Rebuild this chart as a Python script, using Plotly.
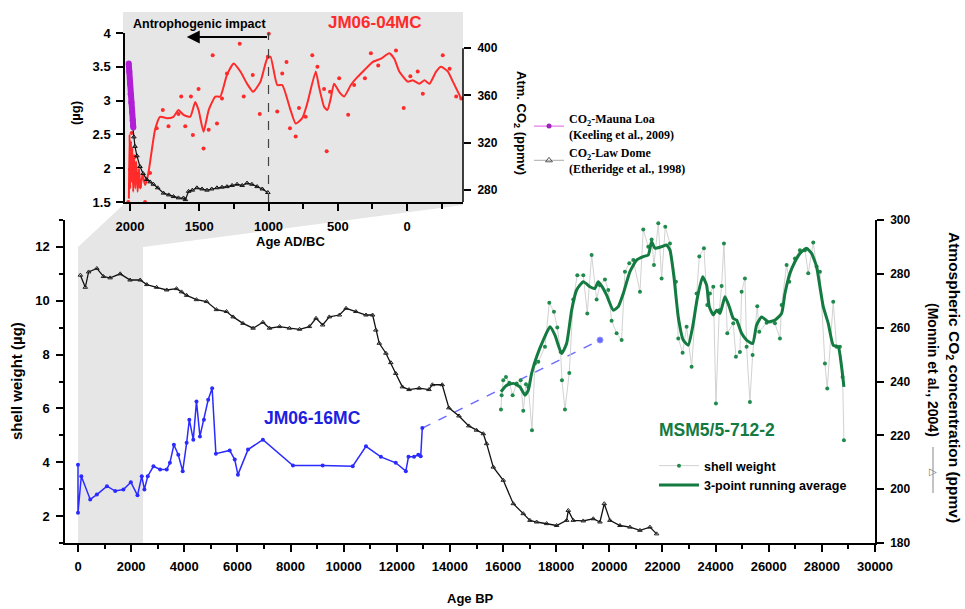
import plotly.graph_objects as go

W, H = 965, 609
def px(x): return x / W
def py(y): return 1 - y / H

FONT = "Liberation Sans"
SERIF = "Liberation Serif"

# ---------------- main plot data ----------------
# Monnin / Law Dome atmospheric CO2 (ppmv) vs Age BP
co2_bp = [90, 275, 400, 710, 960, 1210, 1590, 1960, 2340, 2590, 2960, 3340, 3710, 3900, 4090,
          4460, 4840, 5210, 5590, 5840, 6210, 6590, 6960, 7210, 7590, 7960, 8340, 8710, 8960,
          9210, 9460, 9840, 10090, 10460, 10840, 11090, 11210, 11340, 11590, 11775, 11960,
          12210, 12460, 12840, 13210, 13340, 13710, 13960, 14340, 14710, 15000, 15256, 15381,
          15632, 16008, 16385, 16760, 17012, 17263, 17640, 18016, 18393, 18455, 18644, 19020,
          19396, 19647, 19810, 20023, 20400, 20776, 21152, 21529, 21780]
co2_ppm = [279.5, 275, 280.7, 282, 279, 278.5, 280, 277.7, 277.7, 276, 275, 274, 274.5, 273.3, 272,
           270.4, 269.7, 266.7, 266, 264, 261.6, 259.8, 262, 259.8, 260.4, 259.8, 259.4, 260.4, 263.5,
           261, 264, 264.7, 267.2, 266, 264.7, 264.7, 259.1, 254.2, 250.5, 247, 243,
           238, 237, 237.5, 237, 238.8, 238.8, 230.2, 227.2, 223.5, 221.9, 220.6, 216.9,
           208.2, 203.3, 194.6, 190.9, 188.4, 187.8, 187.2, 186.5, 188.4, 192.1, 188.4, 188.2,
           189.0, 187.8, 194.6, 188.4, 186.5, 185.9, 184.7, 185.9, 183.4]

# JM06-16MC shell weight (ug)
jm16_bp = [0, 0, 125, 460, 710, 1090, 1400, 1710, 1990, 2240, 2400, 2500, 2625, 2840, 3090, 3340,
           3460, 3610, 3775, 3940, 4090, 4190, 4340, 4460, 4590, 4740, 4900, 5050, 5190, 5710,
           5900, 6020, 6400, 6960, 8090, 9210, 10340, 10840, 11400, 11960, 12340, 12440, 12650,
           12810, 12900, 12960]
jm16_sw = [3.91, 2.12, 3.48, 2.62, 2.8, 3.11, 2.93, 2.99, 3.26, 2.77, 3.48, 2.99, 3.48, 3.85, 3.73, 3.73,
           3.98, 4.65, 4.28, 3.67, 4.72, 5.58, 4.84, 6.26, 4.96, 5.58, 6.32, 6.75, 4.32, 4.44,
           4.1, 3.54, 4.47, 4.84, 3.88, 3.88, 3.85, 4.59, 4.2, 3.98, 3.67, 4.2, 4.2,
           4.28, 4.22, 5.27]
jm16_gap_bp = [12960, 19650]
jm16_gap_sw = [5.27, 8.54]

# MSM5/5-712-2 shell weight (raw)
msm_bp = [15921, 15946, 16008, 16109, 16234, 16360, 16510, 16661, 16761, 16862, 16950, 17088, 17200,
          17326, 17577, 17740, 17916, 18041, 18166, 18217, 18330, 18493, 18643, 18794, 19020, 19170,
          19333, 19522, 19647, 19835, 19960, 20086, 20274, 20462, 20588, 20751, 20902, 21153, 21278,
          21466, 21592, 21680, 21843, 21968, 22106, 22282, 22507, 22595, 22758, 22909, 23097, 23285,
          23386, 23561, 23687, 23787, 23913, 24013, 24139, 24226, 24314, 24440, 24665, 24765, 24916,
          24979, 25104, 25167, 25292, 25393, 25569, 25643, 25920, 26234, 26422, 26485, 26673, 26773,
          26986, 27174, 27362, 27488, 27676, 27801, 27927, 28115, 28203, 28428, 28554, 28679, 28780,
          28830]
msm_sw = [5.96, 6.49, 7.05, 7.17, 6.95, 6.49, 6.93, 7.05, 5.91, 6.90, 6.80, 5.19, 7.67,
          7.73, 8.29, 9.93, 9.59, 9.01, 8.10, 7.05, 5.96, 7.32, 10.05, 10.95, 10.95, 9.53,
          11.70, 10.05, 10.58, 10.79, 10.40, 9.26, 8.79, 8.54, 11.08, 11.39, 11.51, 10.33, 12.65,
          12.01, 12.28, 11.33, 12.88, 10.83, 12.75, 12.13, 10.71, 8.60, 8.07, 9.03, 7.55, 10.27,
          11.64, 11.95, 9.84, 10.27, 10.52, 6.18, 9.65, 10.55, 12.13, 8.79, 9.16, 7.92, 8.10,
          10.33, 10.83, 8.29, 6.24, 7.98, 9.80, 8.85, 9.18, 9.16, 8.60, 9.84, 11.33, 10.71,
          11.57, 11.88, 11.88, 11.02, 12.16, 11.27, 11.08, 7.67, 6.74, 9.96, 8.29, 8.29, 7.17,
          4.82]

# MSM5/5-712-2 3-point running average
msm_avg_bp = [15921, 16134, 16385, 16635, 16824, 16950, 17075, 17263, 17514, 17765, 17953, 18204,
              18392, 18581, 18769, 19020, 19271, 19459, 19584, 19710, 19898, 20149, 20337, 20525,
              20776, 21027, 21278, 21466, 21592, 21717, 21968, 22156, 22282, 22432, 22595, 22783,
              22972, 23135, 23310, 23511, 23662, 23762, 23913, 24039, 24164, 24352, 24515, 24665,
              24791, 24979, 25167, 25393, 25544, 25732, 25983, 26234, 26485, 26610, 26798, 26986,
              27174, 27425, 27613, 27801, 27927, 28052, 28240, 28428, 28616, 28742, 28830]
msm_avg_sw = [6.62, 6.86, 6.93, 6.80, 6.49, 6.68, 7.30, 7.92, 8.54, 9.03, 8.72, 8.04,
              8.41, 9.65, 10.40, 10.71, 10.52, 10.46, 10.71, 10.55, 10.21, 9.65, 9.78, 10.27,
              11.08, 11.51, 11.64, 11.70, 12.19, 11.95, 12.01, 12.07, 11.88, 10.89, 9.40, 8.54,
              8.35, 9.03, 10.09, 10.89, 10.58, 9.78, 9.47, 9.65, 9.53, 10.15, 9.78, 9.34,
              9.28, 8.79, 8.54, 8.41, 9.10, 9.40, 9.22, 9.28, 9.53, 10.27, 11.02, 11.45,
              11.76, 11.95, 11.76, 11.27, 10.52, 9.78, 9.16, 8.35, 8.29, 7.55, 6.80]

# ---------------- inset data (Age AD/BC) ----------------
jm04_yr = [2012, 2000, 1988, 1964, 1928, 1891, 1855, 1807, 1763, 1722, 1650, 1630, 1601, 1560, 1546,
           1505, 1469, 1432, 1403, 1372, 1336, 1300, 1208, 1179, 1114, 1063, 1005, 998, 937, 901,
           870, 845, 804, 780, 732, 684, 647, 599, 580, 556, 490, 425, 382, 304, 261, 208, 80, 24,
           -24, -77, -114, -258, -307, -355, -391]
jm04_sw = [1.5, 1.98, 2.52, 2.17, 1.73, 1.5, 1.93, 2.59, 2.86, 2.62, 2.8, 3.06, 2.62, 3.06, 2.49,
           3.17, 2.29, 2.57, 3.67, 2.66, 3.03, 3.40, 3.84, 3.06, 3.38, 2.80, 3.65, 3.99, 2.84, 3.40,
           3.57, 2.59, 2.47, 2.89, 2.76, 3.67, 3.50, 3.17, 2.25, 3.13, 3.33, 2.79, 3.23, 3.33, 3.70,
           3.52, 3.74, 2.89, 3.36, 3.43, 3.10, 3.67, 3.47, 3.06, 3.03]
jm04_avg_yr = [2008, 2003, 1998, 1993, 1988, 1983, 1977, 1970, 1962, 1955, 1945, 1935, 1925, 1910,
               1890, 1867, 1819, 1783, 1734, 1686, 1650, 1614, 1565, 1529, 1505, 1469, 1432, 1384,
               1348, 1300, 1251, 1203, 1155, 1111, 1058, 1010, 986, 937, 901, 841, 804, 756, 720,
               659, 635, 599, 575, 551, 527, 490, 454, 406, 357, 309, 249, 188, 128, 92, 56, -5,
               -41, -89, -126, -162, -210, -246, -295, -331, -391]
jm04_avg_sw = [1.55, 2.5, 1.7, 2.4, 1.8, 2.3, 1.65, 2.2, 1.7, 2.1, 1.65, 2.0, 1.7, 1.9,
               1.75, 1.93, 2.57, 2.76, 2.74, 2.76, 2.86, 2.79, 2.76, 2.98, 2.86, 2.54, 2.86, 3.06,
               3.06, 3.38, 3.55, 3.43, 3.25, 3.13, 3.28, 3.62, 3.65, 3.23, 3.23, 2.86, 2.66, 2.74, 2.96,
               3.43, 3.20, 2.91, 2.86, 3.03, 3.25, 3.13, 3.06, 3.23, 3.35, 3.45, 3.57, 3.62, 3.70, 3.62,
               3.43, 3.28, 3.30, 3.25, 3.30, 3.25, 3.43, 3.50, 3.43, 3.28, 3.03]

mauna_yr = [2009, 2005, 2000, 1995, 1990, 1985, 1980, 1976]
mauna_ppm = [387, 380, 370, 361, 354, 346, 339, 333]

lawdome_yr = [1981, 1972, 1964, 1950, 1928, 1905, 1879, 1855, 1831, 1800, 1758, 1720, 1686, 1650,
              1614, 1600, 1577, 1550, 1517, 1480, 1444, 1410, 1372, 1336, 1300, 1263, 1227, 1190,
              1155, 1120, 1082, 1045, 1005]
lawdome_ppm = [335, 325, 317, 309, 300, 294, 289, 287, 285, 282, 277.5, 276, 274.6, 273.5,
               273.4, 272, 279, 280, 282, 281, 280, 281, 282, 282.5, 283, 284, 285, 284,
               286, 285, 283, 281, 278]

x_ticks_main = list(range(0, 30001, 2000))
y_ticks_main = [2, 4, 6, 8, 10, 12]
y2_ticks_main = [180, 200, 220, 240, 260, 280, 300]
x_ticks_inset = [2000, 1500, 1000, 500, 0]
y_ticks_inset = [1.5, 2, 2.5, 3, 3.5, 4]
y2_ticks_inset = [280, 320, 360, 400]

RED = "#ff2a2a"
BLUE = "#2b2bff"
GREEN = "#137a40"

fig = go.Figure()

# ---- main traces ----
fig.add_trace(go.Scatter(x=co2_bp, y=co2_ppm, xaxis="x", yaxis="y2", mode="lines+markers",
                         line=dict(color="#111111", width=1.3),
                         marker=dict(symbol="triangle-up-open", size=4, color="#222222"),
                         showlegend=False))
fig.add_trace(go.Scatter(x=jm16_gap_bp, y=jm16_gap_sw, xaxis="x", yaxis="y", mode="lines+markers",
                         line=dict(color="#6c6cff", width=1.5, dash="dash"),
                         marker=dict(size=[0, 6], color="#2b2bff"), showlegend=False))
fig.add_trace(go.Scatter(x=jm16_bp, y=jm16_sw, xaxis="x", yaxis="y", mode="lines+markers",
                         line=dict(color=BLUE, width=1.5),
                         marker=dict(size=4, color=BLUE), showlegend=False))
fig.add_trace(go.Scatter(x=msm_bp, y=msm_sw, xaxis="x", yaxis="y", mode="lines+markers",
                         name="shell weight", legend="legend",
                         line=dict(color="#d2d2d2", width=1),
                         marker=dict(size=4, color="#1f8a4c")))
fig.add_trace(go.Scatter(x=msm_avg_bp, y=msm_avg_sw, xaxis="x", yaxis="y", mode="lines",
                         name="3-point running average", legend="legend",
                         line=dict(color=GREEN, width=3, shape="spline", smoothing=0.5)))

# ---- inset traces ----
fig.add_trace(go.Scatter(x=lawdome_yr, y=lawdome_ppm, xaxis="x2", yaxis="y4", mode="lines+markers",
                         line=dict(color="#111111", width=1.2),
                         marker=dict(symbol="triangle-up-open", size=4, color="#111111"),
                         showlegend=False))
fig.add_trace(go.Scatter(x=jm04_avg_yr, y=jm04_avg_sw, xaxis="x2", yaxis="y3", mode="lines",
                         line=dict(color=RED, width=2, shape="spline", smoothing=0.5),
                         showlegend=False))
fig.add_trace(go.Scatter(x=jm04_yr, y=jm04_sw, xaxis="x2", yaxis="y3", mode="markers",
                         marker=dict(size=4, color=RED), cliponaxis=False, showlegend=False))
fig.add_trace(go.Scatter(x=mauna_yr, y=mauna_ppm, xaxis="x2", yaxis="y4", mode="lines+markers",
                         line=dict(color="#b01fd6", width=6),
                         marker=dict(size=6, color="#b01fd6"), showlegend=False))

# legend-only entries for inset
fig.add_trace(go.Scatter(x=[None], y=[None], xaxis="x2", yaxis="y4", mode="lines+markers",
                         name="CO<sub>2</sub>-Mauna Loa<br>(Keeling et al., 2009)", legend="legend2",
                         line=dict(color="#e05ce0", width=1), marker=dict(size=5, color="#a020c0")))
fig.add_trace(go.Scatter(x=[None], y=[None], xaxis="x2", yaxis="y4", mode="lines+markers",
                         name="CO<sub>2</sub>-Law Dome<br>(Etheridge et al., 1998)", legend="legend2",
                         line=dict(color="#aaaaaa", width=1),
                         marker=dict(symbol="triangle-up-open", size=6, color="#555555")))

tickfont = dict(family=FONT, size=13, color="black", weight="bold")
axis_common = dict(showgrid=False, zeroline=False, showline=True, linecolor="black", linewidth=1.5,
                   ticks="outside", ticklen=7, tickwidth=1.5, tickcolor="black", tickfont=tickfont,
                   automargin=False)

fig.update_layout(
    width=W, height=H, autosize=False,
    margin=dict(l=0, r=0, t=0, b=0),
    paper_bgcolor="white", plot_bgcolor="rgba(0,0,0,0)",
    xaxis=dict(domain=[px(65), px(875)], range=[-489, 30000], anchor="y",
               tickvals=x_ticks_main, tickformat="d", ticklabelstandoff=4,
               minor=dict(dtick=1000, tick0=0, ticks="outside", ticklen=4, tickwidth=1.5, tickcolor="black"),
               **axis_common),
    yaxis=dict(domain=[py(543), py(220)], range=[1, 13], anchor="x",
               tickvals=y_ticks_main, ticklabelstandoff=4,
               minor=dict(dtick=1, tick0=0, ticks="outside", ticklen=4, tickwidth=1.5, tickcolor="black"),
               **axis_common),
    yaxis2=dict(domain=[py(543), py(220)], range=[180, 300], anchor="x", overlaying="y", side="right",
                tickvals=y2_ticks_main, ticklabelstandoff=4,
                **{**axis_common, "tickfont": dict(family=FONT, size=12, color="black", weight="bold")}),
    xaxis2=dict(domain=[px(125), px(463)], range=[2036, -404], anchor="y3",
                tickvals=x_ticks_inset, tickformat="d", ticklabelstandoff=5,
                minor=dict(dtick=250, tick0=0, ticks="outside", ticklen=5, tickwidth=1.5, tickcolor="black"),
                **axis_common),
    yaxis3=dict(domain=[py(202), py(33)], range=[1.5, 4], anchor="x2",
                tickvals=y_ticks_inset, ticktext=["1.5", "2", "2.5", "3", "3.5", "4"],
                ticklabelstandoff=3, **axis_common),
    yaxis4=dict(domain=[py(202), py(33)], range=[270, 412.8], anchor="x2", overlaying="y3", side="right",
                tickvals=y2_ticks_inset, ticklabelstandoff=4,
                **{**axis_common, "showline": False,
                   "tickfont": dict(family=FONT, size=12, color="black", weight="bold")}),
    legend=dict(x=px(654), y=py(451), xanchor="left", yanchor="top", bgcolor="rgba(0,0,0,0)",
                font=dict(family=FONT, size=12.5, color="black", weight="bold"),
                itemwidth=40, tracegroupgap=0),
    legend2=dict(x=px(529), y=py(104), xanchor="left", yanchor="top", bgcolor="rgba(0,0,0,0)",
                 font=dict(family=SERIF, size=12, color="black", weight="bold"),
                 itemwidth=30, tracegroupgap=4),
)

# gray inset background + zoom trapezoid + shaded main region
pts = [(123, 12), (463, 12), (463, 205), (143, 247), (143, 543), (78, 543), (78, 247), (123, 205)]
path = "M " + " L ".join(f"{px(a):.5f},{py(b):.5f}" for a, b in pts) + " Z"
shapes = [
    dict(type="path", xref="paper", yref="paper", path=path, fillcolor="#e6e6e6",
         line=dict(width=0), layer="below"),
    # inset right axis line (only up to 400)
    dict(type="line", xref="paper", yref="y4", x0=px(463), x1=px(463), y0=270, y1=400,
         line=dict(color="black", width=1.5)),
    # dashed line at 1000 AD
    dict(type="line", xref="x2", yref="y3", x0=1000, x1=1000, y0=1.5, y1=4,
         line=dict(color="#444444", width=1.2, dash="dash")),
    # legend key line beside the right-axis title
    dict(type="line", xref="paper", yref="paper", x0=px(933), x1=px(933), y0=py(447), y1=py(493),
         line=dict(color="#888888", width=1)),
]
fig.update_layout(shapes=shapes)

def ann(text, x, y, size=13, color="black", angle=0, weight="bold", family=FONT):
    return dict(text=text, x=px(x), y=py(y), xref="paper", yref="paper", showarrow=False,
                xanchor="center", yanchor="middle", textangle=angle,
                font=dict(family=family, size=size, color=color, weight=weight))

annotations = [
    ann("JM06-04MC", 375, 23, size=17, color=RED),
    ann("Antrophogenic impact", 199, 24, size=12.5),
    ann("JM06-16MC", 312, 418, size=17.5, color="#2020e0"),
    ann("MSM5/5-712-2", 717, 430, size=17.5, color=GREEN),
    ann("Age BP", 470, 598, size=13),
    ann("Age AD/BC", 290, 241, size=13),
    ann("shell weight (µg)", 16, 381, size=15, angle=-90),
    ann("(µg)", 75, 113, size=13, angle=-90),
    ann("Atm. CO<sub>2</sub> (ppmv)", 520, 123, size=13, angle=90),
    ann("Atmospheric CO<sub>2</sub> concentration (ppmv)", 954, 377, size=15.5, angle=90),
    ann("(Monnin et al., 2004)", 933, 370, size=14, angle=90),
    ann("▷", 933, 471, size=10, color="#777777", weight="normal", family="DejaVu Sans"),
    dict(x=1590, y=py(37), xref="x2", yref="paper", ax=1000, ay=0, axref="x2",
         showarrow=True, arrowhead=2, arrowsize=1.3, arrowwidth=2, arrowcolor="black", text=""),
]
fig.update_layout(annotations=annotations)

fig.write_html("out.html")
